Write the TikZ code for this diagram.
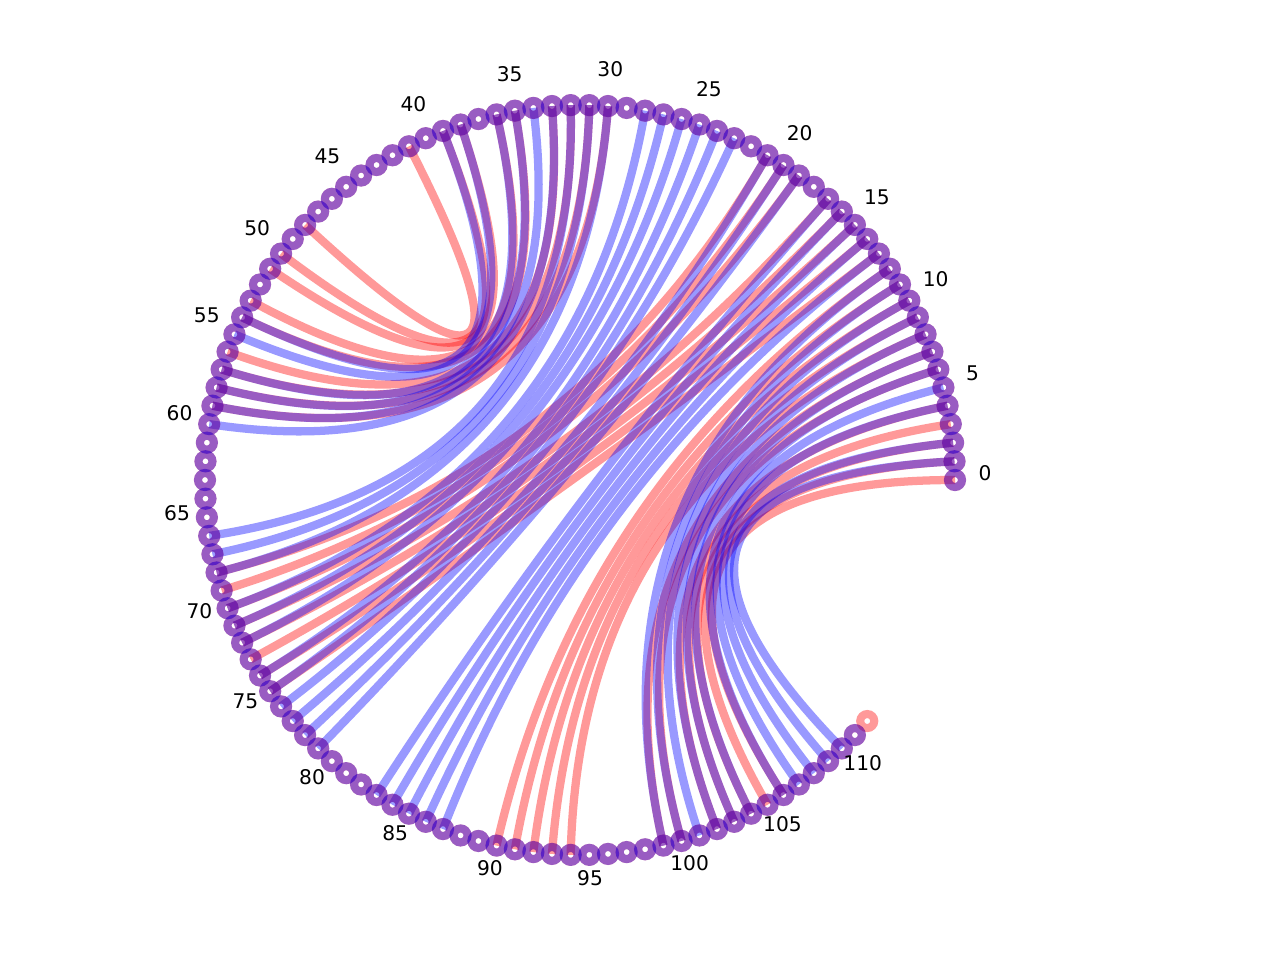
\documentclass[tikz,border=0pt]{standalone}
\usepackage{fontspec}
\setmainfont{DejaVu Sans}
\usetikzlibrary{calc}

\tikzset{
  redpair/.style={red, opacity=0.4, line width=4.7pt},
  bluepair/.style={blue, opacity=0.4, line width=4.7pt},
  redring/.style={draw=red, draw opacity=0.4, line width=4.6pt},
  bluering/.style={draw=blue, draw opacity=0.4, line width=4.6pt},
  baselabel/.style={font=\fontsize{11.5}{13}\selectfont, yshift=0.14cm}
}
% chord between two bases, bent through the centre
\newcommand{\chord}[3]{\draw[#1] (n#2) .. controls ($(n#2)!0.6667!(c)$) and ($(n#3)!0.6667!(c)$) .. (n#3);}

\begin{document}
\begin{tikzpicture}
    \useasboundingbox (-11.6,-9.6) rectangle (14,9.6);
    \coordinate (c) at (0,0);
    % bases on the circle
    \foreach \i in {0,...,112}
        \coordinate (n\i) at ({\i*2.857143}:7.5);

    % pairs of the first structure
    \foreach \a/\b in {41/48,39/50,38/51,36/53,35/54,33/56,32/57,31/58,30/59,
        0/106,1/105,2/104,3/103,4/102,6/100,7/99,8/94,9/93,10/92,11/91,12/90,
        13/75,14/74,15/73,16/72,17/71,19/70,20/69,21/68}
        {\chord{redpair}{\a}{\b}}
    % pairs of the second structure
    \foreach \a/\b in {39/54,38/55,36/57,35/58,34/59,33/60,32/66,31/67,30/68,
        1/110,2/109,4/108,5/107,6/106,7/104,8/103,9/102,10/101,11/100,12/99,
        13/87,14/86,15/85,16/84,17/83,19/79,20/78,21/77,23/76,24/75,25/74,
        26/72,27/71,28/70}
        {\chord{bluepair}{\a}{\b}}

    % rings
    \foreach \i in {0,...,112}
        \draw[redring] (n\i) circle (0.14);
    \foreach \i in {0,...,111}
        \draw[bluering] (n\i) circle (0.14);

    % index every fifth base
    \foreach \i in {0,5,...,110}
        \node[baselabel] (l\i) at ({\i*2.857143}:8.1) {\i};
\end{tikzpicture}
\end{document}
